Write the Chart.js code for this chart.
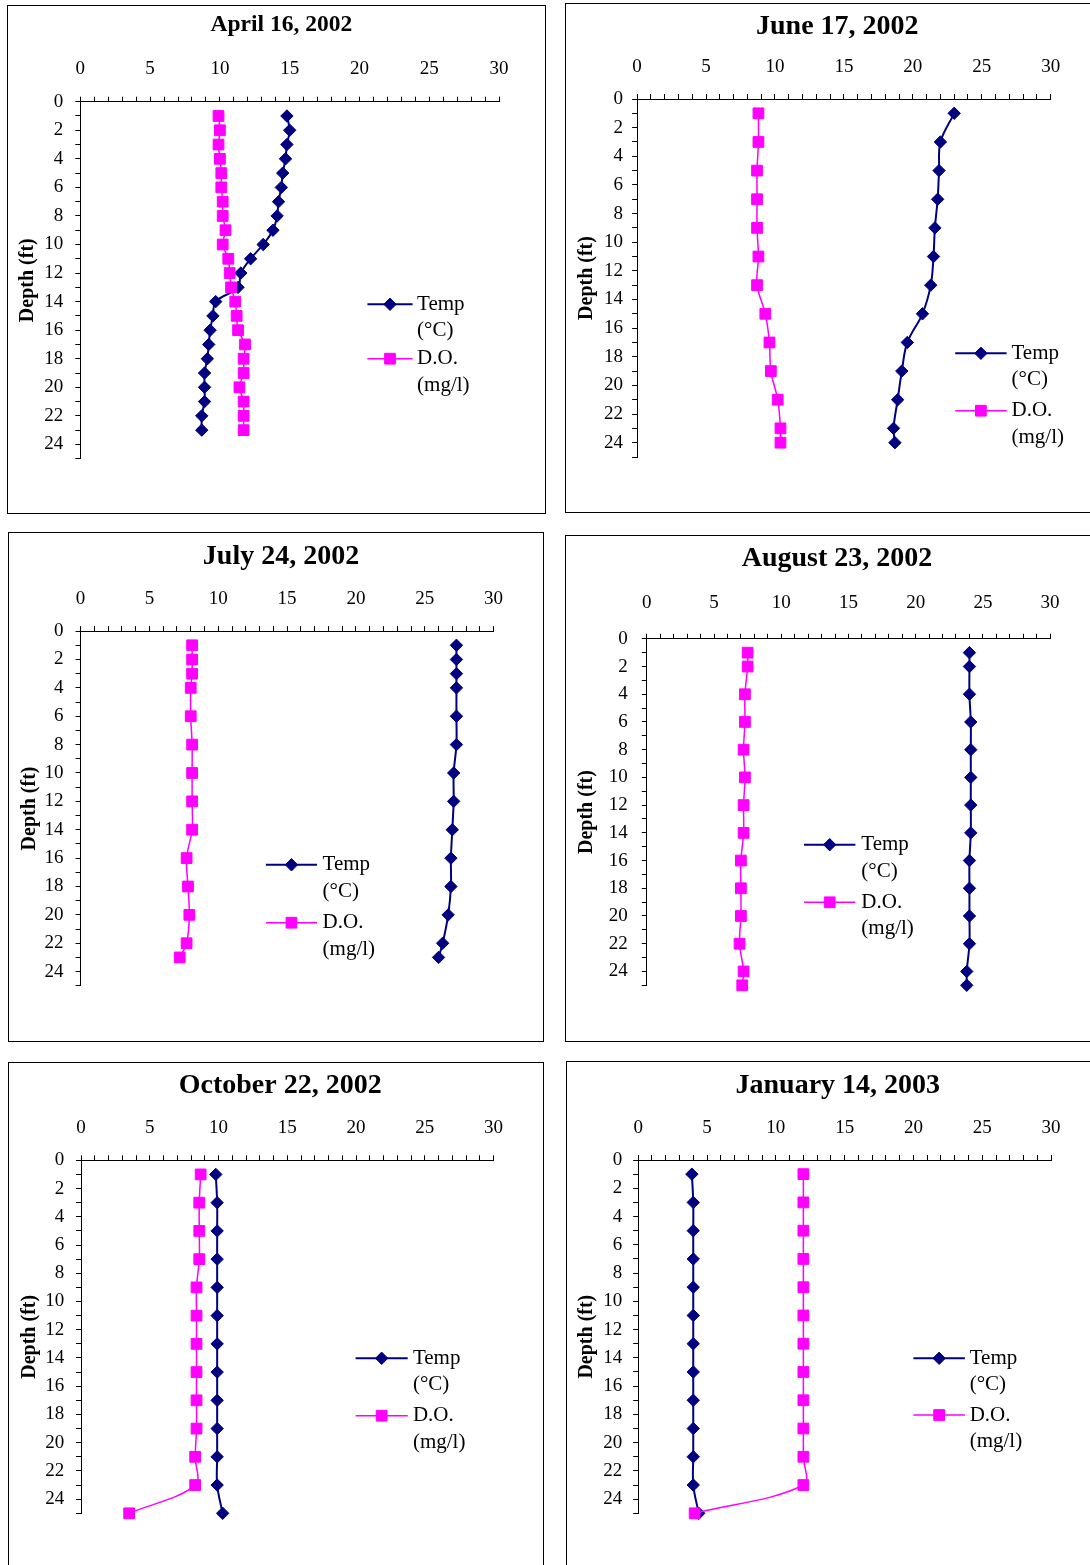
<!DOCTYPE html>
<html><head><meta charset="utf-8">
<script src="https://cdn.jsdelivr.net/npm/chart.js@4.4.1/dist/chart.umd.min.js"></script>
<style>
html,body{margin:0;padding:0;background:#fff;overflow:hidden;width:1090px;height:1565px;}
.panel{position:absolute;border:1px solid #000;background:#fff;}
.panel canvas{display:block;}
</style></head><body>
<script>
// ---------- DATA ----------
const panelTitles = ['April 16, 2002','June 17, 2002','July 24, 2002','August 23, 2002','October 22, 2002','January 14, 2003'];
const seriesLabels = [['Temp','(°C)'],['D.O.','(mg/l)']];
const xTickLabels = [0,5,10,15,20,25,30];
const yTickLabels = [0,2,4,6,8,10,12,14,16,18,20,22,24];

const aprDepth = [1,2,3,4,5,6,7,8,9,10,11,12,13,14,15,16,17,18,19,20,21,22,23];
const aprTemp  = [14.8,15.0,14.8,14.7,14.5,14.4,14.2,14.1,13.8,13.1,12.2,11.5,11.3,9.7,9.5,9.3,9.2,9.1,8.9,8.9,8.9,8.7,8.7];
const aprDO    = [9.9,10.0,9.9,10.0,10.1,10.1,10.2,10.2,10.4,10.2,10.6,10.7,10.8,11.1,11.2,11.3,11.8,11.7,11.7,11.4,11.7,11.7,11.7];

const junDepth = [1,3,5,7,9,11,13,15,17,19,21,23,24];
const junTemp  = [23.0,22.0,21.9,21.8,21.6,21.5,21.3,20.7,19.6,19.2,18.9,18.6,18.7];
const junDO    = [8.8,8.8,8.7,8.7,8.7,8.8,8.7,9.3,9.6,9.7,10.2,10.4,10.4];

const julDepth = [1,2,3,4,6,8,10,12,14,16,18,20,22,23];
const julTemp  = [27.3,27.3,27.3,27.3,27.3,27.3,27.1,27.1,27.0,26.9,26.9,26.7,26.3,26.0];
const julDO    = [8.1,8.1,8.1,8.0,8.0,8.1,8.1,8.1,8.1,7.7,7.8,7.9,7.7,7.2];

const augDepth = [1,2,4,6,8,10,12,14,16,18,20,22,24,25];
const augTemp  = [24.0,24.0,24.0,24.1,24.1,24.1,24.1,24.1,24.0,24.0,24.0,24.0,23.8,23.8];
const augDO    = [7.5,7.5,7.3,7.3,7.2,7.3,7.2,7.2,7.0,7.0,7.0,6.9,7.2,7.1];

const octDepth = [1,3,5,7,9,11,13,15,17,19,21,23,25];
const octTemp  = [9.8,9.9,9.9,9.9,9.9,9.9,9.9,9.9,9.9,9.9,9.9,9.9,10.3];
const octDO    = [8.7,8.6,8.6,8.6,8.4,8.4,8.4,8.4,8.4,8.4,8.3,8.3,3.5];

const janDepth = [1,3,5,7,9,11,13,15,17,19,21,23,25];
const janTemp  = [3.9,4.0,4.0,4.0,4.0,4.0,4.0,4.0,4.0,4.0,4.0,4.0,4.4];
const janDO    = [12.0,12.0,12.0,12.0,12.0,12.0,12.0,12.0,12.0,12.0,12.0,12.0,4.1];

const panelSeries = [
  [aprDepth, aprTemp, aprDO],
  [junDepth, junTemp, junDO],
  [julDepth, julTemp, julDO],
  [augDepth, augTemp, augDO],
  [octDepth, octTemp, octDO],
  [janDepth, janTemp, janDO]
];

// ---------- LAYOUT (page pixels) ----------
const layouts = [
 {box:[7,5,539,509],    plot:[80.3,499.1,101.7,458.7],  title:[281.4,25.3,23.5],  xGap:32.7, yGap:17, yTitleX:27.8,  leg:[367.4,412.6,304.3,358.7,417.1]},
 {box:[565,3,545,510],  plot:[637.1,1050.7,99,457],     title:[837.3,27,28],      xGap:32.3, yGap:14, yTitleX:586.7, leg:[955.2,1006.6,353.3,410.7,1011.5]},
 {box:[8,532,536,510],  plot:[80.6,493.6,631.1,985.8],  title:[281,556.8,28],     xGap:31.8, yGap:17, yTitleX:29.5,  leg:[265.9,317,864.8,922.7,322.6]},
 {box:[565,535,545,507],plot:[646.8,1050.1,638.8,985.3],title:[837,558.5,28],     xGap:36,   yGap:19, yTitleX:586.7, leg:[804,855.4,844.7,902.3,861.3]},
 {box:[8,1062,536,520], plot:[81,493.6,1160.3,1513.3],  title:[280.2,1085.7,28],  xGap:32.6, yGap:16.7,yTitleX:29.5, leg:[355.6,407.7,1358.3,1415.7,412.9]},
 {box:[566,1061,545,520],plot:[638.2,1051.1,1160,1513.3],title:[837.8,1085.7,28],xGap:32.3, yGap:16, yTitleX:586.7, leg:[913.4,964.9,1358.3,1415,969.7]}
];

const NAVY = '#000080', MAGENTA = '#FF00FF';
const FONT = '"Liberation Serif", "Times New Roman", serif';
Chart.defaults.font.family = FONT;
Chart.defaults.color = '#000';

function drawMarker(ctx, style, r, x, y) {
  if (Chart.helpers && Chart.helpers.drawPoint) {
    Chart.helpers.drawPoint(ctx, {pointStyle: style, radius: r, rotation: 0, borderWidth: 1}, x, y);
    return;
  }
  ctx.beginPath();
  if (style === 'rectRot') { ctx.moveTo(x, y - r); ctx.lineTo(x + r, y); ctx.lineTo(x, y + r); ctx.lineTo(x - r, y); ctx.closePath(); }
  else { const s = r * Math.SQRT1_2; ctx.rect(x - s, y - s, 2 * s, 2 * s); }
  ctx.fill(); ctx.stroke();
}

const decor = {
  id: 'decor',
  afterDraw(chart, args, o) {
    const ctx = chart.ctx;
    ctx.save();
    ctx.fillStyle = '#000';
    ctx.font = 'bold ' + o.titleSize + 'px ' + FONT;
    ctx.textAlign = 'center';
    ctx.textBaseline = 'middle';
    ctx.fillText(o.title, o.titleX, o.titleY);
    chart.data.datasets.forEach((ds, i) => {
      const y = o.legY[i];
      ctx.strokeStyle = ds.borderColor;
      ctx.lineWidth = ds.borderWidth;
      ctx.beginPath(); ctx.moveTo(o.legX1, y); ctx.lineTo(o.legX2, y); ctx.stroke();
      ctx.fillStyle = ds.pointBackgroundColor;
      ctx.strokeStyle = ds.pointBorderColor;
      ctx.lineWidth = 1;
      drawMarker(ctx, ds.pointStyle, ds.pointRadius, (o.legX1 + o.legX2) / 2, y);
      ctx.fillStyle = '#000';
      ctx.font = o.legSize + 'px ' + FONT;
      ctx.textAlign = 'left';
      ctx.textBaseline = 'middle';
      ds.legendLines.forEach((t, j) => ctx.fillText(t, o.legTX, y + j * o.legLine));
    });
    ctx.restore();
  }
};

const TICK_FONT = 19, TICK_LEN = 5, YTITLE_FONT = 20;

panelSeries.forEach((series, p) => {
  const L = layouts[p];
  const [bl, bt, bw, bh] = L.box;
  const div = document.createElement('div');
  div.className = 'panel';
  div.style.left = bl + 'px'; div.style.top = bt + 'px';
  div.style.width = (bw - 2) + 'px'; div.style.height = (bh - 2) + 'px';
  document.body.appendChild(div);
  const W = bw - 2, H = bh - 2;
  const cv = document.createElement('canvas');
  cv.width = W; cv.height = H;
  cv.style.width = W + 'px'; cv.style.height = H + 'px';
  div.appendChild(cv);
  const ox = bl + 1, oy = bt + 1;
  const cL = L.plot[0] - ox, cR = L.plot[1] - ox, cT = L.plot[2] - oy, cB = L.plot[3] - oy;
  const [depth, temp, dox] = series;

  const mk = (vals) => depth.map((d, i) => ({x: vals[i], y: d}));

  new Chart(cv, {
    type: 'line',
    data: {
      datasets: [
        {label: seriesLabels[0].join(' '), legendLines: seriesLabels[0], data: mk(temp),
         borderColor: NAVY, backgroundColor: NAVY, pointBackgroundColor: NAVY, pointBorderColor: NAVY,
         borderWidth: 2, pointStyle: 'rectRot', pointRadius: 6.2, pointBorderWidth: 1,
         tension: 0.35, fill: false, clip: false, order: 1},
        {label: seriesLabels[1].join(' '), legendLines: seriesLabels[1], data: mk(dox),
         borderColor: MAGENTA, backgroundColor: MAGENTA, pointBackgroundColor: MAGENTA, pointBorderColor: MAGENTA,
         borderWidth: 1.5, pointStyle: 'rect', pointRadius: 7.6, pointBorderWidth: 1,
         tension: 0.35, fill: false, clip: false, order: 0}
      ]
    },
    options: {
      responsive: false,
      maintainAspectRatio: false,
      animation: false,
      devicePixelRatio: 1,
      layout: {padding: {left: 0, top: 0, right: W - cR, bottom: H - cB}},
      plugins: {
        legend: {display: false},
        title: {display: false},
        tooltip: {enabled: false},
        decor: {
          title: panelTitles[p], titleX: L.title[0] - ox, titleY: L.title[1] - oy, titleSize: L.title[2],
          legX1: L.leg[0] - ox, legX2: L.leg[1] - ox, legY: [L.leg[2] - oy, L.leg[3] - oy],
          legTX: L.leg[4] - ox, legSize: 21, legLine: 26.5
        }
      },
      scales: {
        x: {
          type: 'linear', position: 'top', min: 0, max: 30,
          afterFit: (s) => { s.height = cT; },
          grid: {drawOnChartArea: false, drawTicks: true, tickLength: TICK_LEN, color: '#000', lineWidth: 1},
          border: {display: true, color: '#000', width: 1},
          ticks: {
            stepSize: 1, autoSkip: false, maxRotation: 0, minRotation: 0,
            padding: L.xGap - TICK_LEN - TICK_FONT * 1.2 / 2,
            font: {size: TICK_FONT}, color: '#000',
            callback: (v) => xTickLabels.includes(v) ? String(v) : ''
          }
        },
        y: {
          type: 'linear', position: 'left', min: 0, max: 25, reverse: true,
          afterFit: (s) => { s.width = cL; },
          grid: {drawOnChartArea: false, drawTicks: true, tickLength: TICK_LEN, color: '#000', lineWidth: 1},
          border: {display: true, color: '#000', width: 1},
          title: {display: true, text: 'Depth (ft)', color: '#000',
                  font: {size: YTITLE_FONT, weight: 'bold'},
                  padding: {top: (L.yTitleX - ox) - YTITLE_FONT * 1.2 / 2, bottom: 0}},
          ticks: {
            stepSize: 1, autoSkip: false,
            padding: L.yGap - TICK_LEN,
            font: {size: TICK_FONT}, color: '#000',
            callback: (v) => yTickLabels.includes(v) ? String(v) : ''
          }
        }
      }
    },
    plugins: [decor]
  });
});
</script>
</body></html>
